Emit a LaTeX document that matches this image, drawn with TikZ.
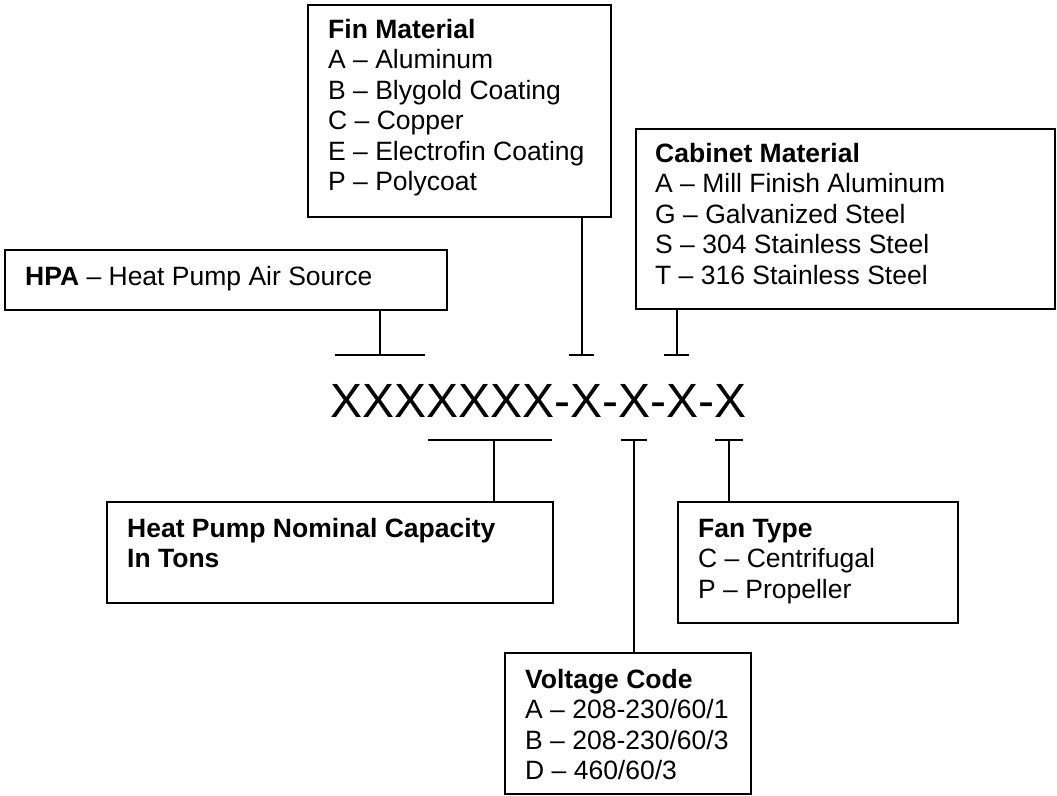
\documentclass[tikz,border=0pt]{standalone}
\usepackage{fontspec}
\setmainfont{Liberation Sans}
\begin{document}
\begin{tikzpicture}[x=1pt,y=-1pt,
  box/.style={draw=black,line width=2pt,rectangle,inner sep=0pt,anchor=north west},
  txt/.style={inner sep=0pt,anchor=base west,align=left,font=\fontsize{26.5pt}{30.5pt}\selectfont},
  conn/.style={draw=black,line width=2pt},
  tickbar/.style={draw=black,line width=2.8pt}]
\useasboundingbox[fill=white] (0,0) rectangle (1057,795);
% boxes
\node[box,minimum width=442pt,minimum height=60pt] (hpa) at (4,249) {};
\node[box,minimum width=303pt,minimum height=212pt] (fin) at (307,4) {};
\node[box,minimum width=419pt,minimum height=180pt] (cab) at (635,128) {};
\node[box,minimum width=446pt,minimum height=101pt] (cap) at (106,501) {};
\node[box,minimum width=246pt,minimum height=141pt] (volt) at (504,652) {};
\node[box,minimum width=280pt,minimum height=121pt] (fan) at (677,501) {};
% texts (anchor = baseline of last line)
\node[txt] (hpaT) at ([shift={(21,36)}]hpa.north west) {\textbf{HPA} -- Heat Pump Air Source};
\node[txt] (finT) at ([shift={(21,186.5)}]fin.north west) {\textbf{Fin Material}\\A -- Aluminum\\B -- Blygold Coating\\C -- Copper\\E -- Electrofin Coating\\P -- Polycoat};
\node[txt] (cabT) at ([shift={(20,156)}]cab.north west) {\textbf{Cabinet Material}\\A -- Mill Finish Aluminum\\G -- Galvanized Steel\\S -- 304 Stainless Steel\\T -- 316 Stainless Steel};
\node[txt] (capT) at ([shift={(21,66.5)}]cap.north west) {\textbf{Heat Pump Nominal Capacity}\\\textbf{In Tons}};
\node[txt] (voltT) at ([shift={(21,127.5)}]volt.north west) {\textbf{Voltage Code}\\A -- 208-230/60/1\\B -- 208-230/60/3\\D -- 460/60/3};
\node[txt] (fanT) at ([shift={(21,97)}]fan.north west) {\textbf{Fan Type}\\C -- Centrifugal\\P -- Propeller};
% model code
\node[inner sep=0pt,anchor=base west,font=\fontsize{48pt}{55pt}\selectfont] (code) at (330,417) {XXXXXXX-X-X-X-X};
% tick coordinates
\coordinate (tHPA) at (380,355);
\coordinate (tFin) at (582,355);
\coordinate (tCab) at (677,355);
\coordinate (tCap) at (494,440);
\coordinate (tVolt) at (634,440);
\coordinate (tFan) at (729,440);
% ticks
\draw[tickbar] ([xshift=-45pt]tHPA) -- ([xshift=45pt]tHPA);
\draw[tickbar] ([xshift=-13pt]tFin) -- ([xshift=12pt]tFin);
\draw[tickbar] ([xshift=-13pt]tCab) -- ([xshift=12pt]tCab);
\draw[tickbar] ([xshift=-66pt]tCap) -- ([xshift=58pt]tCap);
\draw[tickbar] ([xshift=-13pt]tVolt) -- ([xshift=13pt]tVolt);
\draw[tickbar] ([xshift=-14pt]tFan) -- ([xshift=14pt]tFan);
% connectors
\draw[conn] (hpa.south -| tHPA) -- (tHPA);
\draw[conn] (fin.south -| tFin) -- (tFin);
\draw[conn] (cab.south -| tCab) -- (tCab);
\draw[conn] (tCap) -- (cap.north -| tCap);
\draw[conn] (tVolt) -- (volt.north -| tVolt);
\draw[conn] (tFan) -- (fan.north -| tFan);
\end{tikzpicture}
\end{document}
